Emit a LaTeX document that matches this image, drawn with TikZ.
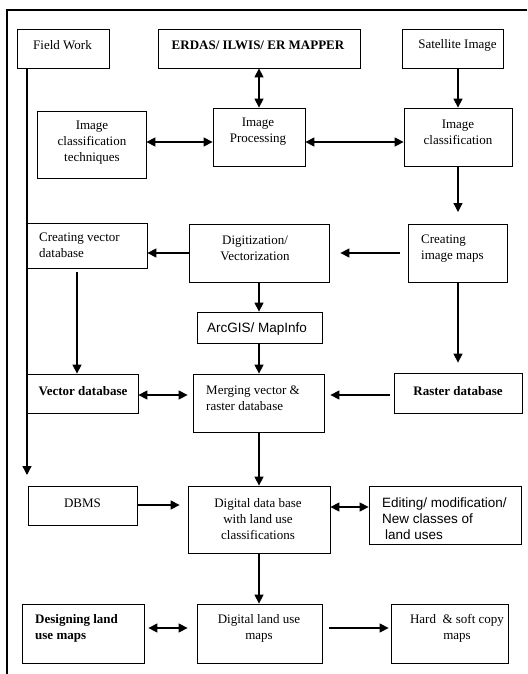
\documentclass[tikz,border=0pt]{standalone}
\usepackage{fontspec}
\setmainfont{Liberation Serif}
\newfontfamily\arialf{Liberation Sans}
\usetikzlibrary{arrows.meta,calc}
\begin{document}
\begin{tikzpicture}[x=1pt,y=-1pt,
  box/.style={draw,line width=0.8pt,inner sep=0pt,rectangle},
  txt/.style={inner sep=0pt,align=center,font=\fontsize{13}{16}\selectfont},
  ltxt/.style={inner sep=0pt,align=left,anchor=west,font=\fontsize{13}{16}\selectfont},
  stxt/.style={inner sep=0pt,font=\arialf\fontsize{13.5}{16}\selectfont},
  arr/.style={line width=1.3pt,-{Triangle[length=9pt,width=9pt]}},
  biarr/.style={line width=1.3pt,{Triangle[length=9pt,width=9pt]}-{Triangle[length=9pt,width=9pt]}}]
\useasboundingbox (0,0) rectangle (527,674);
\draw[line width=1.2pt] (7,674) -- (7,10) -- (527,10);
% boxes
\node[box,minimum width=92pt,minimum height=39pt] (fw) at (63,48.5) {};
\node[box,minimum width=202pt,minimum height=39pt] (erdas) at (259,48.5) {};
\node[box,minimum width=101pt,minimum height=39pt] (sat) at (452.5,48.5) {};
\node[box,minimum width=109pt,minimum height=67pt] (ict) at (91.5,144.5) {};
\node[box,minimum width=92pt,minimum height=58pt] (ip) at (259,137) {};
\node[box,minimum width=108pt,minimum height=58pt] (ic) at (458,137) {};
\node[box,minimum width=120pt,minimum height=45pt] (cvd) at (87,245.5) {};
\node[box,minimum width=140pt,minimum height=58pt] (dig) at (259,253) {};
\node[box,minimum width=99pt,minimum height=58pt] (cim) at (457.5,253) {};
\node[box,minimum width=125pt,minimum height=31pt] (arc) at (259.5,327.5) {};
\node[box,minimum width=111pt,minimum height=39pt] (vd) at (82.5,393.5) {};
\node[box,minimum width=131pt,minimum height=58pt] (mrg) at (258.5,403) {};
\node[box,minimum width=128pt,minimum height=40pt] (rd) at (458,393) {};
\node[box,minimum width=109pt,minimum height=39pt] (dbms) at (82.5,505.5) {};
\node[box,minimum width=142pt,minimum height=67pt] (ddb) at (259,519.5) {};
\node[box,minimum width=152pt,minimum height=58pt] (edit) at (445,515) {};
\node[box,minimum width=122pt,minimum height=59pt] (des) at (83,633.5) {};
\node[box,minimum width=125pt,minimum height=59pt] (dlum) at (259.5,633.5) {};
\node[box,minimum width=117pt,minimum height=59pt] (hard) at (449.5,633.5) {};
% texts
\node[txt] (tfw) at (62.5,45) {Field Work};
\node[txt,font=\bfseries\fontsize{13}{16}\selectfont] (terdas) at (258,45) {ERDAS/ ILWIS/ ER MAPPER};
\node[txt] (tsat) at (457.5,45) {Satellite Image};
\node[txt] (tict) at (92,143) {Image\\classification\\techniques};
\node[txt] (tip) at (258,132) {Image\\Processing};
\node[txt] (tic) at (458,132) {Image\\classification};
\node[ltxt] (tcvd) at (39,245.5) {Creating vector\\database};
\node[txt] (tdig) at (255,248.5) {Digitization/\\Vectorization};
\node[ltxt] (tcim) at (421,248.5) {Creating\\image maps};
\node[stxt] (tarc) at (257,329) {ArcGIS/ MapInfo};
\node[txt,font=\bfseries\fontsize{13}{16}\selectfont] (tvd) at (83,391) {Vector database};
\node[ltxt] (tmrg) at (206,398.5) {Merging vector \&\\raster database};
\node[txt,font=\bfseries\fontsize{13}{16}\selectfont] (trd) at (458,391) {Raster database};
\node[txt] (tdbms) at (82.5,503) {DBMS};
\node[txt] (tddb) at (258,519) {Digital data base\\with land use\\classifications};
\node[stxt,anchor=west,align=left] (tedit) at (382,519) {Editing/ modification/\\New classes of\\\hspace{3pt}land uses};
\node[ltxt,font=\bfseries\fontsize{13}{16}\selectfont] (tdes) at (35,628) {Designing land\\use maps};
\node[txt] (tdlum) at (259,628) {Digital land use\\maps};
\node[txt] (thard) at (457,628) {Hard\ \ \& soft copy\\maps};
% connectors
\coordinate (cimtip) at (458,212);
\coordinate (fwend) at (27,475);
\draw[biarr] (erdas.south) -- (ip.north);
\draw[biarr] (ict.east |- 0,142) -- (ip.west |- 0,142);
\draw[biarr] (ip.east |- 0,142) -- (ic.west |- 0,142);
\draw[arr] (sat.south -| ic.north) -- (ic.north);
\draw[arr] (ic.south) -- (cimtip);
\draw[arr] (dig.west) -- (cvd.east |- dig.west);
\draw[arr] ($(cim.west)+(-8,0)$) -- ($(dig.east)+(11,0)$);
\draw[arr] ($(cvd.south)+(-10,4)$) coordinate (t1) -- (t1 |- vd.north);
\draw[arr] (dig.south) -- (dig.south |- arc.north);
\draw[arr] (dig.south |- arc.south) -- (dig.south |- mrg.north);
\draw[arr] (cim.south -| ic.south) -- ($(ic.south |- rd.north)+(0,-10)$);
\draw[biarr] ($(vd.east)+(0,1.5)$) coordinate (t2) -- ($(t2 -| mrg.west)+(-5,0)$);
\draw[arr] ($(rd.west)+(-4,2)$) coordinate (t3) -- ($(t3 -| mrg.east)+(6,0)$);
\draw[arr] (dig.south |- mrg.south) -- (dig.south |- ddb.north);
\draw[arr] ($(fw.south)+(-36,0)$) -- (fwend);
\draw[arr] ($(dbms.east)+(0,-0.5)$) coordinate (t4) -- ($(t4 -| ddb.west)+(-8,0)$);
\draw[biarr] ($(ddb.east)+(0,-12.5)$) coordinate (t5) -- (t5 -| edit.west);
\draw[arr] (ddb.south) -- (ddb.south |- dlum.north);
\draw[biarr] ($(des.east)+(4,-5.5)$) coordinate (t6) -- ($(t6 -| dlum.west)+(-9,0)$);
\draw[arr] ($(dlum.east)+(7,-5.5)$) coordinate (t7) -- ($(t7 -| hard.west)+(-2,0)$);
\end{tikzpicture}
\end{document}
